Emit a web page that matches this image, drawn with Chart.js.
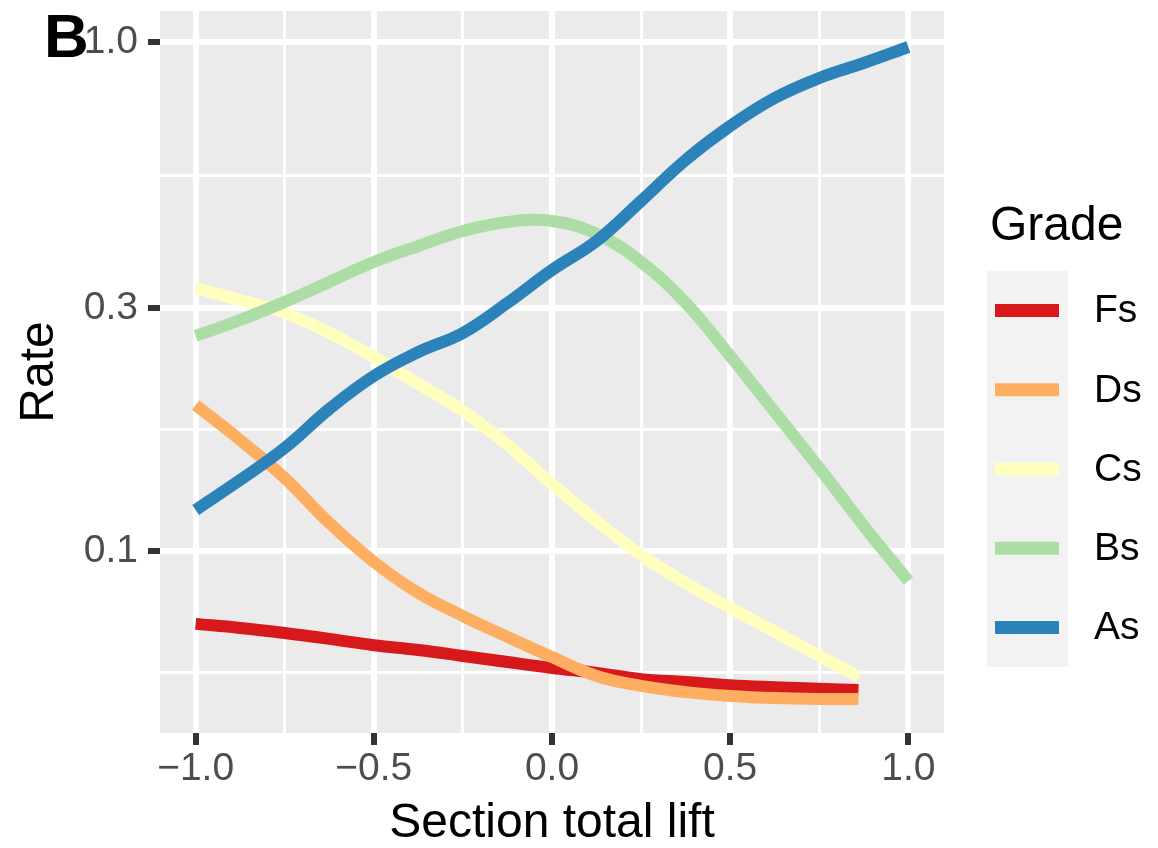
<!DOCTYPE html>
<html>
<head>
<meta charset="utf-8">
<title>Rate by section total lift</title>
<script src="https://cdn.jsdelivr.net/npm/chart.js@4.4.1/dist/chart.umd.min.js"></script>
<style>
  html, body { margin: 0; padding: 0; background: #fff; }
  canvas { display: block; }
</style>
</head>
<body>
<canvas id="rateChart" width="1158" height="848"></canvas>
<script>
// lift positions of the smoothed curves
const liftLong  = [-1, -0.875, -0.75, -0.625, -0.5, -0.375, -0.25, -0.125, 0, 0.125, 0.25, 0.375, 0.5, 0.625, 0.75, 0.875, 1];
const liftShort = [-1, -0.875, -0.75, -0.625, -0.5, -0.375, -0.25, -0.125, 0, 0.125, 0.25, 0.375, 0.5, 0.625, 0.75, 0.86];

const grades      = ['Fs', 'Ds', 'Cs', 'Bs', 'As'];
const gradeColors = ['#d7191c', '#fdae61', '#ffffbf', '#abdda4', '#2b83ba'];

// rate per grade (Fs/Ds/Cs stop at 0.86)
const rateFs = [0.0719, 0.0706, 0.0690, 0.0672, 0.0653, 0.0639, 0.0622, 0.0605, 0.0589, 0.0576, 0.0560, 0.0553, 0.0545, 0.0540, 0.0536, 0.0533];
const rateDs = [0.1936, 0.1652, 0.1391, 0.1135, 0.0952, 0.0827, 0.0745, 0.0678, 0.0619, 0.0568, 0.0543, 0.0528, 0.0519, 0.0514, 0.0512, 0.0512];
const rateCs = [0.3287, 0.3112, 0.2935, 0.2681, 0.2405, 0.2129, 0.1884, 0.1616, 0.1354, 0.1145, 0.0982, 0.0865, 0.0773, 0.0694, 0.0622, 0.0566];
const rateBs = [0.2645, 0.2843, 0.3086, 0.3377, 0.3697, 0.3974, 0.4253, 0.4430, 0.4449, 0.4196, 0.3697, 0.3072, 0.2416, 0.1876, 0.1456, 0.1120, 0.0873];
const rateAs = [0.1204, 0.1379, 0.1594, 0.1901, 0.2207, 0.2460, 0.2681, 0.3072, 0.3565, 0.4064, 0.4871, 0.5864, 0.6839, 0.7762, 0.8497, 0.9094, 0.9777];

// axis breaks
const xBreaks = [-1, -0.5, 0, 0.5, 1];
const xLabels = ['\u22121.0', '\u22120.5', '0.0', '0.5', '1.0'];
const xMinor  = [-0.75, -0.25, 0.25, 0.75];
const yBreaks = [0.1, 0.3, 1];
const yLabels = ['0.1', '0.3', '1.0'];
const yMinor  = [0.0577, 0.1732, 0.5477];

const FONT = '"Liberation Sans", Arial, sans-serif';
Chart.defaults.font.family = FONT;

const seriesRates = [rateFs, rateDs, rateCs, rateBs, rateAs];

const datasets = grades.map((g, i) => {
  const xs = seriesRates[i].length === liftLong.length ? liftLong : liftShort;
  return {
    label: g,
    data: seriesRates[i].map((r, j) => ({ x: xs[j], y: r })),
    borderColor: gradeColors[i],
    backgroundColor: gradeColors[i],
    borderWidth: 12,
    borderCapStyle: 'butt',
    borderJoinStyle: 'round',
    pointRadius: 0,
    fill: false,
    tension: 0.4,
    order: grades.length - i   // As ends up on top
  };
});

const isMajor = (list, ctx) => ctx.tick && list.includes(ctx.tick.value);

const gridFor = (majors) => ({
  color: '#ffffff',
  lineWidth: c => isMajor(majors, c) ? 6 : 3,
  drawTicks: true,
  tickLength: 12,
  tickWidth: 6,
  tickColor: c => isMajor(majors, c) ? '#333333' : 'rgba(0,0,0,0)'
});

/* grey panel behind the grid */
const panelBackground = {
  id: 'panelBackground',
  beforeDraw(chart) {
    const { ctx, chartArea: a } = chart;
    ctx.save();
    ctx.fillStyle = '#ffffff';
    ctx.fillRect(0, 0, chart.width, chart.height);
    ctx.fillStyle = '#ebebeb';
    ctx.fillRect(a.left, a.top, a.right - a.left, a.bottom - a.top);
    ctx.restore();
  }
};

/* legend box on the right + panel tag */
const gradeLegend = {
  id: 'gradeLegend',
  afterDraw(chart) {
    const { ctx, chartArea: a } = chart;
    const x0 = a.right + 43;
    const top = 271, rowH = 79.2;

    ctx.save();
    ctx.fillStyle = '#000';
    ctx.textBaseline = 'alphabetic';
    ctx.font = `48px ${FONT}`;
    ctx.fillText('Grade', x0 + 3, 240);

    ctx.fillStyle = '#f2f2f2';
    ctx.fillRect(x0, top, 81, rowH * grades.length);

    ctx.font = `39px ${FONT}`;
    ctx.textBaseline = 'middle';
    chart.data.datasets.forEach((ds, i) => {
      const y = top + rowH * i + rowH / 2;
      ctx.strokeStyle = ds.borderColor;
      ctx.lineWidth = 13;
      ctx.lineCap = 'butt';
      ctx.beginPath();
      ctx.moveTo(x0 + 8, y);
      ctx.lineTo(x0 + 72, y);
      ctx.stroke();
      ctx.fillStyle = '#000';
      ctx.fillText(ds.label, x0 + 107, y + 1);
    });

    ctx.font = `bold 62px ${FONT}`;
    ctx.textBaseline = 'alphabetic';
    ctx.fillText('B', 44, 57);
    ctx.restore();
  }
};

new Chart(document.getElementById('rateChart'), {
  type: 'line',
  data: { datasets },
  options: {
    responsive: false,
    devicePixelRatio: 1,
    animation: false,
    layout: { autoPadding: false, padding: { top: 11, right: 214, bottom: 0, left: 0 } },
    plugins: {
      legend: { display: false },
      tooltip: { enabled: false }
    },
    scales: {
      x: {
        type: 'linear',
        min: -1.1,
        max: 1.1,
        afterBuildTicks: s => {
          s.ticks = [...xMinor, ...xBreaks].sort((a, b) => a - b).map(v => ({ value: v }));
        },
        afterFit: s => {
          s.height = 115;
          s.paddingLeft = 0;
          s.paddingRight = 0;
        },
        border: { display: false },
        grid: gridFor(xBreaks),
        ticks: {
          autoSkip: false,
          maxRotation: 0,
          padding: 1,
          color: '#4d4d4d',
          font: { size: 39 },
          callback: v => {
            const k = xBreaks.indexOf(v);
            return k < 0 ? '' : xLabels[k];
          }
        },
        title: {
          display: true,
          text: 'Section total lift',
          color: '#000',
          font: { size: 48, lineHeight: 1 },
          padding: { top: 0, bottom: 0 }
        }
      },
      y: {
        type: 'logarithmic',
        min: 0.04389,
        max: 1.1506,
        afterBuildTicks: s => {
          s.ticks = [...yMinor, ...yBreaks].sort((a, b) => a - b).map(v => ({ value: v }));
        },
        afterFit: s => {
          s.width = 160;
          s.paddingTop = 0;
          s.paddingBottom = 0;
        },
        border: { display: false },
        grid: gridFor(yBreaks),
        ticks: {
          autoSkip: false,
          padding: 10,
          color: '#4d4d4d',
          font: { size: 39 },
          callback: v => {
            const k = yBreaks.indexOf(v);
            return k < 0 ? '' : yLabels[k];
          }
        },
        title: {
          display: true,
          text: 'Rate',
          color: '#000',
          font: { size: 48, lineHeight: 1 },
          padding: { top: 16, bottom: 0 }
        }
      }
    }
  },
  plugins: [panelBackground, gradeLegend]
});
</script>
</body>
</html>
